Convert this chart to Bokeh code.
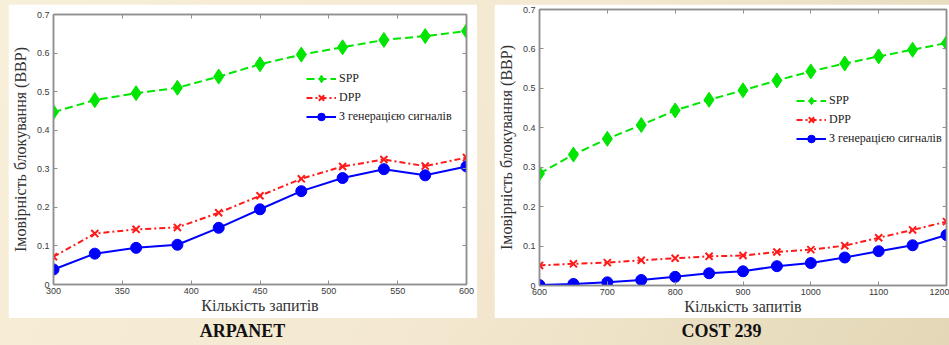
from bokeh.plotting import figure
from bokeh.models import (Range1d, LinearAxis, FixedTicker, Div, Row, Column,
                          GlobalInlineStyleSheet)
from bokeh.embed import file_html
from bokeh.resources import INLINE

# ---------------- data ----------------
arp_x = [300, 330, 360, 390, 420, 450, 480, 510, 540, 570, 600]
arp_spp = [0.447, 0.478, 0.496, 0.510, 0.539, 0.571, 0.596, 0.615, 0.634, 0.644, 0.657]
arp_dpp = [0.072, 0.132, 0.143, 0.148, 0.186, 0.230, 0.274, 0.306, 0.324, 0.307, 0.329]
arp_gen = [0.039, 0.080, 0.095, 0.103, 0.147, 0.195, 0.242, 0.276, 0.299, 0.283, 0.306]

cost_x = [600, 650, 700, 750, 800, 850, 900, 950, 1000, 1050, 1100, 1150, 1200]
cost_spp = [0.284, 0.332, 0.372, 0.407, 0.444, 0.471, 0.495, 0.520, 0.543, 0.563, 0.581, 0.598, 0.615]
cost_dpp = [0.051, 0.055, 0.058, 0.064, 0.069, 0.074, 0.076, 0.085, 0.091, 0.101, 0.121, 0.141, 0.162]
cost_gen = [0.001, 0.004, 0.008, 0.014, 0.022, 0.031, 0.036, 0.049, 0.057, 0.071, 0.087, 0.102, 0.128]

y_ticks = [0, 0.1, 0.2, 0.3, 0.4, 0.5, 0.6, 0.7]
y_tick_labels = ["0", "0.1", "0.2", "0.3", "0.4", "0.5", "0.6", "0.7"]
arp_x_ticks = [300, 350, 400, 450, 500, 550, 600]
cost_x_ticks = [600, 700, 800, 900, 1000, 1100, 1200]

labels = ["SPP", "DPP", "З генерацією сигналів"]
x_title = "Кількість запитів"
y_title = "Імовірність блокування (ВВР)"
titles = ["ARPANET", "COST 239"]

GREY = "#8f8f8f"
TICK_TXT = "#3a3a3a"
GREEN = "#00e600"
RED = "#ff1a1a"
BLUE = "#0000ff"
SERIF = "Liberation Serif"
SANS = "Liberation Sans"


def make_panel(xs, spp, dpp, gen, xr, xticks, w, h, borders, legend_loc):
    left, right, top, bottom = borders
    p = figure(width=w, height=h, output_backend="svg", toolbar_location=None,
               x_range=Range1d(*xr), y_range=Range1d(0, 0.7),
               min_border_left=left, min_border_right=right,
               min_border_top=top, min_border_bottom=bottom,
               background_fill_color="white", border_fill_color="white")
    p.grid.visible = False
    p.outline_line_color = GREY
    p.outline_line_width = 1.5

    for ax in (p.xaxis[0], p.yaxis[0]):
        ax.axis_line_color = GREY
        ax.axis_line_width = 1.5
        ax.major_tick_line_color = GREY
        ax.major_tick_in = 4
        ax.major_tick_out = 0
        ax.minor_tick_line_color = None
        ax.major_label_text_font = SANS
        ax.major_label_text_font_size = "9px"
        ax.major_label_text_color = TICK_TXT
        ax.axis_label_text_font = SERIF
        ax.axis_label_text_font_size = "16px"
        ax.axis_label_text_font_style = "normal"
        ax.axis_label_text_color = "#333333"
    p.xaxis[0].ticker = FixedTicker(ticks=xticks)
    p.yaxis[0].ticker = FixedTicker(ticks=y_ticks)
    p.yaxis[0].major_label_overrides = {t: l for t, l in zip(y_ticks, y_tick_labels)}
    p.xaxis[0].major_label_standoff = 3
    p.yaxis[0].major_label_standoff = 4
    p.xaxis[0].axis_label = x_title
    p.yaxis[0].axis_label = y_title
    p.xaxis[0].axis_label_standoff = 0
    p.yaxis[0].axis_label_standoff = 5

    for loc, tk in (("above", xticks), ("right", y_ticks)):
        ax = LinearAxis(ticker=FixedTicker(ticks=tk), major_label_text_font_size="1px",
                        major_label_text_color=None,
                        major_label_standoff=0, major_tick_in=4, major_tick_out=0,
                        minor_tick_line_color=None, axis_line_color=GREY,
                        axis_line_width=1.5, major_tick_line_color=GREY)
        p.add_layout(ax, loc)

    p.line(xs, spp, line_color=GREEN, line_width=2, line_dash="8 4", legend_label=labels[0])
    p.scatter(xs, spp, marker="diamond", size=15, fill_color=GREEN,
              line_color=GREEN, legend_label=labels[0])
    p.line(xs, dpp, line_color=RED, line_width=2, line_dash="6 3 2 3", legend_label=labels[1])
    p.scatter(xs, dpp, marker="x", size=10, line_color=RED, line_width=2,
              legend_label=labels[1])
    p.line(xs, gen, line_color=BLUE, line_width=2, legend_label=labels[2])
    p.scatter(xs, gen, marker="circle", size=11, fill_color=BLUE, line_color=BLUE,
              legend_label=labels[2])

    lg = p.legend[0]
    lg.location = legend_loc
    lg.border_line_color = None
    lg.background_fill_alpha = 0
    lg.margin = 0
    lg.padding = 0
    lg.spacing = 0
    lg.glyph_width = 30
    lg.glyph_height = 19
    lg.label_height = 19
    lg.label_standoff = 3
    lg.label_text_font = SERIF
    lg.label_text_font_size = "12px"
    lg.label_text_color = "#222222"
    return p


p1 = make_panel(arp_x, arp_spp, arp_dpp, arp_gen, (300, 600), arp_x_ticks,
                469, 314, (44, 11, 10, 34), (253, 158))
p2 = make_panel(cost_x, cost_spp, cost_dpp, cost_gen, (600, 1200), cost_x_ticks,
                455, 314, (45, 3, 5, 33), (257, 137))

title_style = {"font-family": "'Liberation Serif', serif", "font-weight": "bold",
               "font-size": "18px", "text-align": "center", "color": "#111111",
               "line-height": "26px"}
d1 = Div(text=titles[0], width=469, height=26, margin=(0, 0, 0, 0), styles=dict(title_style))
d2 = Div(text=titles[1], width=455, height=26, margin=(0, 0, 0, 0), styles=dict(title_style))

css = GlobalInlineStyleSheet(css="html { background: linear-gradient(120deg, #f8efda 0%, #f3e8cf 55%, #e3d7b7 100%); }")
root = Row(children=[Column(children=[p1, d1], spacing=0),
                     Column(children=[p2, d2], spacing=0)],
           spacing=17, margin=(4, 0, 0, 8), stylesheets=[css])

open("out.html", "w").write(file_html(root, INLINE))
